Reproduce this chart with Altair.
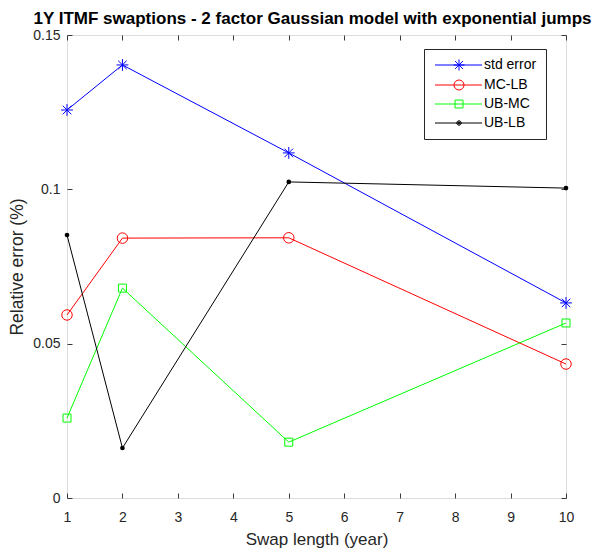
import altair as alt
import pandas as pd

# ---- data ----
swap_years = [1, 2, 5, 10]
series_names = ["std error", "MC-LB", "UB-MC", "UB-LB"]
std_error = [0.1257, 0.1403, 0.1118, 0.0632]
mc_lb = [0.0593, 0.0842, 0.0843, 0.0434]
ub_mc = [0.0259, 0.0680, 0.0181, 0.0567]
ub_lb = [0.0852, 0.0162, 0.1024, 0.1004]
series_colors = ["#0000ff", "#ff0000", "#00ff00", "#000000"]
x_ticks = [1, 2, 3, 4, 5, 6, 7, 8, 9, 10]
y_ticks = [0, 0.05, 0.1, 0.15]

rows = []
for name, vals in zip(series_names, [std_error, mc_lb, ub_mc, ub_lb]):
    for xv, yv in zip(swap_years, vals):
        rows.append({"series": name, "x": xv, "y": yv})
df = pd.DataFrame(rows)

FONT = "Liberation Sans"
FRAME = "#3a3a3a"
TXT = "#262626"

# marker symbol paths (unit box -1..1)
asterisk = "M-1,0H1M0,-1V1M-0.72,-0.72L0.72,0.72M-0.72,0.72L0.72,-0.72"
circle = "M-1,0A1,1 0 1,0 1,0A1,1 0 1,0 -1,0Z"
square = "M-0.8,-0.8H0.8V0.8H-0.8Z"

# legend symbols: line segment with marker in the middle
ln = "M-1,0H8.4"
legend_paths = [
    ln + "M2.7,0H4.9M3.8,-1.1V1.1M3.02,-0.78L4.58,0.78M3.02,0.78L4.58,-0.78",
    ln + "M2.8,0A1,1 0 1,0 4.8,0A1,1 0 1,0 2.8,0Z",
    ln + "M3,-0.8H4.6V0.8H3Z",
    ln + "M3.35,0A0.45,0.45 0 1,0 4.25,0A0.45,0.45 0 1,0 3.35,0Z"
         "M3.55,0A0.25,0.25 0 1,0 4.05,0A0.25,0.25 0 1,0 3.55,0Z"
         "M3.7,0A0.1,0.1 0 1,0 3.9,0A0.1,0.1 0 1,0 3.7,0Z",
]

x_scale = alt.Scale(domain=[1, 10], nice=False, zero=False)
y_scale = alt.Scale(domain=[0, 0.15], nice=False, zero=False)
color_scale = alt.Scale(domain=series_names, range=series_colors)

label_axis_x = alt.Axis(
    orient="bottom", values=x_ticks, title="Swap length (year)", format="d",
    labelFlush=False, labelOverlap=False, ticks=False, tickSize=0, domain=False,
    grid=False, labelPadding=12, labelFontSize=14, labelFont=FONT, labelColor=TXT,
    titleFontSize=17, titleFont=FONT, titleFontWeight="normal", titleColor=TXT,
    titlePadding=7,
)
label_axis_y = alt.Axis(
    orient="left", values=y_ticks, title="Relative error (%)", format=".2~f",
    labelFlush=False, labelOverlap=False, ticks=False, tickSize=0, domain=False,
    grid=False, labelPadding=7, labelFontSize=14, labelFont=FONT, labelColor=TXT,
    titleFontSize=17.5, titleFont=FONT, titleFontWeight="normal", titleColor=TXT,
    titlePadding=6,
)


def tick_axis(orient, values):
    return alt.Axis(
        orient=orient, values=values, labels=False, domain=False, ticks=True,
        tickSize=5, tickColor=FRAME, tickWidth=1, grid=False, title=None,
        offset=-5,
    )


base = alt.Chart(df)

legend_def = alt.Legend(
    orient="none", legendX=357, legendY=14, title=None, padding=9,
    strokeColor="#262626", fillColor="white", labelFont=FONT, labelFontSize=14,
    labelColor="black", labelOffset=37, symbolSize=100, symbolStrokeWidth=1,
    symbolOpacity=1, symbolFillColor="transparent", rowPadding=5,
    labelExpr="datum.label + ' '",
)

# invisible layer that only carries the legend and the inner bottom/left ticks
legend_layer = base.mark_point(filled=False, opacity=0, size=100, strokeWidth=1).encode(
    x=alt.X("x:Q", scale=x_scale, axis=tick_axis("bottom", x_ticks)),
    y=alt.Y("y:Q", scale=y_scale, axis=tick_axis("left", y_ticks)),
    color=alt.Color("series:N", scale=color_scale, legend=legend_def),
    shape=alt.Shape("series:N", scale=alt.Scale(domain=series_names, range=legend_paths),
                    legend=legend_def),
)

lines = base.mark_line(strokeWidth=1).encode(
    x=alt.X("x:Q", scale=x_scale, axis=label_axis_x),
    y=alt.Y("y:Q", scale=y_scale, axis=label_axis_y),
    color=alt.Color("series:N", scale=color_scale, legend=None),
)

marker_specs = [
    ("std error", asterisk, 140),
    ("MC-LB", circle, 110),
    ("UB-MC", square, 100),
]
marker_layers = []
for i, (name, shp, size) in enumerate(marker_specs):
    if i == 0:
        xa, ya = tick_axis("top", x_ticks), tick_axis("right", y_ticks)
    else:
        xa, ya = None, None
    marker_layers.append(
        base.transform_filter(alt.datum.series == name)
        .mark_point(shape=shp, filled=False, size=size, strokeWidth=1, opacity=1)
        .encode(
            x=alt.X("x:Q", scale=x_scale, axis=xa),
            y=alt.Y("y:Q", scale=y_scale, axis=ya),
            color=alt.Color("series:N", scale=color_scale, legend=None),
        )
    )

# filled black dots for UB-LB (constant colour so the legend stays unfilled)
dots = (
    base.transform_filter(alt.datum.series == series_names[3])
    .mark_point(shape="circle", filled=True, size=22, opacity=1, color=series_colors[3])
    .encode(
        x=alt.X("x:Q", scale=x_scale, axis=None),
        y=alt.Y("y:Q", scale=y_scale, axis=None),
    )
)

chart = (
    alt.layer(legend_layer, lines, *marker_layers, dots)
    .resolve_axis(x="independent", y="independent")
    .properties(
        width=499, height=463,
        autosize=alt.AutoSizeParams(type="none"),
        padding={"left": 59, "top": 27, "right": 26, "bottom": 55},
        title=alt.TitleParams(
            "1Y ITMF swaptions - 2 factor Gaussian model with exponential jumps",
            fontSize=17, font=FONT, fontWeight="bold", color="black",
            anchor="middle", offset=0, dx=-4,
        ),
    )
    .configure_view(stroke=FRAME, strokeWidth=1)
    .configure(background="white")
)

chart.save("out.html", embed_options={"renderer": "svg", "actions": False})
